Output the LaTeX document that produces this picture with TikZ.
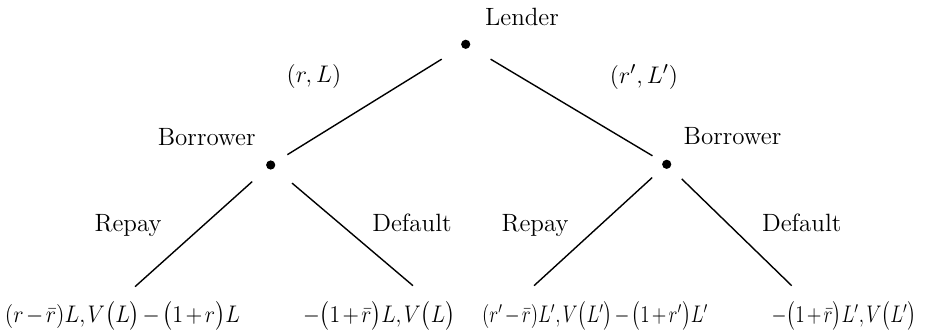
\documentclass[tikz,border=0pt]{standalone}
\usepackage{amsmath}
\usepackage{graphicx}
\newcommand\leafmath[2]{\resizebox{#1}{\height}{\medmuskip=2mu\relax\thinmuskip=2mu\relax$#2$}}
\begin{document}
\begin{tikzpicture}[x=0.5pt,y=-0.5pt,
  every node/.style={font=\fontsize{12.5}{14}\selectfont, inner sep=0pt},
  dot/.style={circle, fill=black, minimum size=4.6pt, inner sep=0pt},
  edge/.style={line width=0.7pt},
  lbl/.style={anchor=base},
  leaf/.style={anchor=base, font=\fontsize{11.5}{14}\selectfont}]
\useasboundingbox (0,0) rectangle (930,331);
% decision nodes
\node[dot] (L) at (465.7,44.3) {};
\node[dot] (LB) at (270.7,165) {};
\node[dot] (RB) at (666.7,164.3) {};
% leaf ends
\coordinate (l1) at (135,286.7);
\coordinate (l2) at (413,285.7);
\coordinate (l3) at (534,285.7);
\coordinate (l4) at (791.7,285.7);
% labels
\node[lbl] (tL) at (522,25.7) {Lender};
\node (a1) at (314,77) {$\left(r,L\right)$};
\node (a2) at (644,77) {$\left(r',L'\right)$};
\node[lbl] (tLB) at (206.7,146) {Borrower};
\node[lbl] (tRB) at (732.5,145) {Borrower};
\node[lbl] (rp1) at (128,231.7) {Repay};
\node[lbl] (df1) at (412,231.7) {Default};
\node[lbl] (rp2) at (535,231) {Repay};
\node[lbl] (df2) at (801.7,231) {Default};
\node[leaf] (p1) at (122.5,322) {\leafmath{117.5pt}{(r-\bar{r})L,V\bigl(L\bigr)-\bigl(1+r\bigr)L}};
\node[leaf] (p2) at (379,322) {\leafmath{76pt}{-\bigl(1+\bar{r}\bigr)L,V\bigl(L\bigr)}};
\node[leaf] (p3) at (595,322) {\leafmath{113pt}{(r'-\bar{r})L',V\bigl(L'\bigr)-\bigl(1+r'\bigr)L'}};
\node[leaf] (p4) at (844,322) {\leafmath{72.5pt}{-\bigl(1+\bar{r}\bigr)L',V\bigl(L'\bigr)}};
% edges
\draw[edge, shorten <=11.6pt, shorten >=7.3pt] (L) -- (LB);
\draw[edge, shorten <=12pt, shorten >=5.8pt] (L) -- (RB);
\draw[edge, shorten <=9.9pt] (LB) -- (l1);
\draw[edge, shorten <=11.5pt] (LB) -- (l2);
\draw[edge, shorten <=7.3pt] (RB) -- (l3);
\draw[edge, shorten <=8pt] (RB) -- (l4);
\end{tikzpicture}
\end{document}
